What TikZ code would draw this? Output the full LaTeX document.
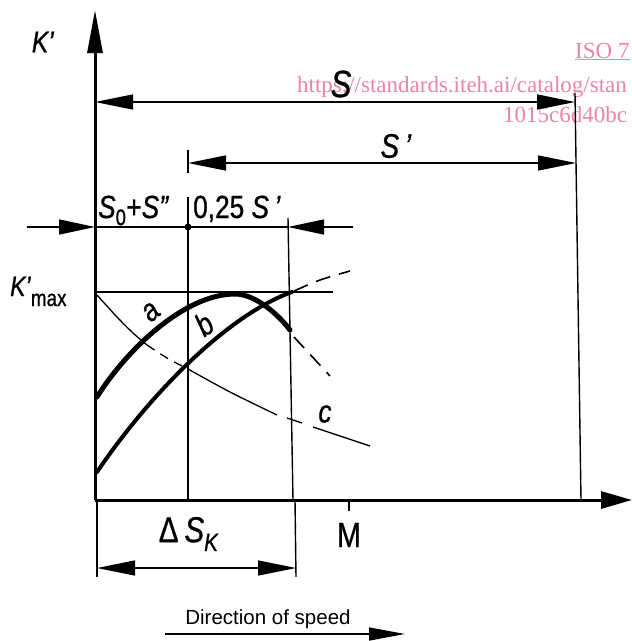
\documentclass[tikz,border=0pt]{standalone}
\usepackage{fontspec}
\setmainfont[FakeStretch=0.82, FakeBold=0.8]{Liberation Sans}
\newfontfamily\plainsans{Liberation Sans}
\newfontfamily\wmfont{Liberation Serif}
\usepackage{tikz}
\usetikzlibrary{arrows.meta}
\definecolor{wmpink}{RGB}{238,132,162}
\newcommand{\pr}{\symbol{"27}}
\newcommand{\dpr}{\symbol{"22}}
\tikzset{
    axisline/.style={
        line width=3pt,
        black,
        -{Triangle[length=43pt, width=15pt]}
    },
    % dimension arrows, heads at both ends
    dimarrow/.style={
        line width=1.4pt,
        {Triangle[length=38pt, width=15pt]}-{Triangle[length=38pt, width=15pt]}
    },
    onehead/.style={
        line width=1.4pt,
        -{Triangle[length=36pt, width=15pt]}
    },
    thinline/.style={line width=1.4pt},
    curvea/.style={line width=5pt, line cap=round},
    curveb/.style={line width=4pt, line cap=round},
    curvec/.style={line width=1.3pt},
    contdash/.style={line width=1.6pt, dash pattern=on 15pt off 9pt},
    lbl/.style={inner sep=0pt, font=\fontsize{32}{32}\selectfont},
    wmtext/.style={inner sep=0pt, anchor=base west, wmpink, font=\wmfont\fontsize{23}{23}\selectfont}
}

\begin{document}
\begin{tikzpicture}[x=1pt, y=-1pt]
	\useasboundingbox (0,0) rectangle (632,641);
	\coordinate (O) at (95,500);
	\coordinate (Ytop) at (95,10);
	\coordinate (Xend) at (632,500);
	\coordinate (Rtop) at (575,93);
	\coordinate (Rbot) at (581,500);

	% watermark
	\begin{scope}
		\clip (0,0) rectangle (632,641);
		\node [wmtext] (wmiso) at (575,58) {\underline{ISO 7}};
		\node [wmtext] (wmurl) at (297,92) {https://standards.iteh.ai/catalog/stan};
		\node [wmtext] (wmid) at (503,122) {1015c6d40bc};
	\end{scope}

	\draw[axisline] (O) -- (Ytop);
	\draw[axisline, -{Triangle[length=31pt, width=17pt]}] (O) -- (Xend);
	\draw[thinline] (Rtop) -- (Rbot);

	\draw[dimarrow] (95,102) -- (575,102);
	\draw[dimarrow] (188,163) -- (576,163);
	\draw[thinline] (188,150) -- (188,173);

	\draw[thinline] (188,197) -- (188,500);
	\draw[thinline] (288,218) -- (293,500);
	\draw[onehead] (27,227) -- (95,227);
	\draw[onehead] (353,227) -- (288,227);
	\draw[thinline] (95,227) -- (288,227);
	\fill (188,227) circle (3.5);

	\draw[thinline] (95,292) -- (333,292);

	\draw[curvea] (97,397) .. controls (127,349) and (185,294) .. (235,294)
		.. controls (255,294) and (278,314) .. (290,330);
	\draw[contdash] (294,337) -- (330,376);
	\draw[curveb] (97,472) .. controls (154,388) and (232,313) .. (292,292);
	\draw[contdash] plot[smooth] coordinates {(294,291) (320,280) (350,271)};

	\draw[curvec] plot[smooth] coordinates {(97,295) (117,317) (133,333) (147,345)};
	\draw[curvec, dash pattern=on 9pt off 7pt] plot[smooth] coordinates {(147,345) (167,358) (188,369)};
	\draw[curvec] plot[smooth] coordinates {(188,369) (230,392) (277,415)};
	\draw[curvec] (287,418) -- (302,423);
	\draw[curvec] plot[smooth] coordinates {(313,427) (340,436) (370,446)};

	\draw[thinline] (97,500) -- (97,577);
	\draw[thinline] (295,500) -- (296,577);
	\draw[dimarrow] (97,568) -- (296,568);
	\draw[thinline] (349,500) -- (349,511);

	\draw[line width=1.6pt, -{Triangle[length=36pt, width=13pt]}] (165,634) -- (405,634);

	\node [lbl, font=\fontsize{30}{30}\selectfont] (labK) at (43,42) {\textit{K\pr}};
	\node [lbl, font=\fontsize{38}{38}\selectfont] (labS) at (341,84) {\textit{S}};
	\node [lbl, font=\fontsize{34}{34}\selectfont] (labSp) at (396,146) {\textit{S\,\pr}};
	\node [lbl, anchor=base west] (labSo) at (98,218) {\textit{S}\textsubscript{0}+\textit{S\dpr}};
	\node [lbl, anchor=base west] (labq) at (193,218) {0,25 \textit{S\,\pr}};
	\node [lbl, anchor=base west, font=\fontsize{28}{28}\selectfont] (labKmax) at (10,296) {\textit{K\pr}\raisebox{-10pt}{\fontsize{23}{23}\selectfont max}};
	\node [lbl, rotate=40] (laba) at (151,312) {\textit{a}};
	\node [lbl, rotate=34] (labb) at (204,324) {\textit{b}};
	\node [lbl] (labc) at (325,414) {\textit{c}};
	\node [lbl, font=\fontsize{36}{36}\selectfont] (labdS) at (189,534) {Δ\,\textit{S}\textsubscript{\textit{K}}};
	\node [lbl, font=\fontsize{35}{35}\selectfont] (labM) at (349,535) {M};
	\node [lbl, font=\plainsans\fontsize{20.5}{20.5}\selectfont] (labdir) at (268,619) {Direction of speed};
\end{tikzpicture}
\end{document}
